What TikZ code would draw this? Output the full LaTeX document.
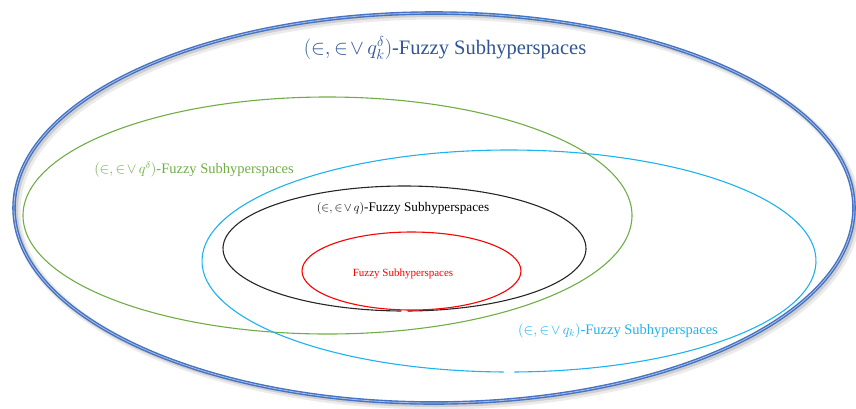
\documentclass[tikz,border=0pt]{standalone}
\usepackage{fontspec}
\setmainfont{Liberation Serif}
\definecolor{outerblue}{HTML}{4472C4}
\definecolor{outertext}{HTML}{2F5597}
\definecolor{greenc}{HTML}{70AD47}
\definecolor{cyanc}{HTML}{1DB2F0}
\definecolor{redc}{HTML}{FF0000}
\tikzset{
  ring/.style={line width=1.1pt},
  lbl/.style={inner sep=0pt, anchor=center},
}
\begin{document}
\begin{tikzpicture}[x=1pt,y=-1pt]
\useasboundingbox (0,0) rectangle (856,408);
% shadow of outer ellipse
\draw[black, opacity=0.12, line width=4pt] (436,210) ellipse [x radius=420, y radius=195];
\draw[black, opacity=0.08, line width=7pt] (437,211) ellipse [x radius=420, y radius=195];
% outer ellipse (double line)
\draw[outerblue, line width=3.6pt] (434,208) ellipse [x radius=420, y radius=195];
\draw[outerblue!45!white, line width=0.8pt] (434,208) ellipse [x radius=420, y radius=195];
% green ellipse
\draw[ring, greenc] (327.5,215.5) ellipse [x radius=304.5, y radius=118.5];
% cyan ellipse with small gap at bottom
\draw[ring, cyanc] ([shift={(91:307 and 111)}]509,261) arc[start angle=91, end angle=449, x radius=307, y radius=111];
% black ellipse with small gap at bottom
\draw[ring, black!85] ([shift={(91:181.5 and 62.5)}]404.5,248.5) arc[start angle=91, end angle=449, x radius=181.5, y radius=62.5];
% red ellipse
\draw[ring, redc] (411.5,271) ellipse [x radius=109.5, y radius=39];
% labels
\node[lbl, text=outertext, font=\fontsize{20.5}{24}\selectfont] (louter) at (445,48) {$(\in,\in\!\vee\, q_k^{\delta})$-Fuzzy Subhyperspaces};
\node[lbl, text=greenc, font=\fontsize{14.5}{17}\selectfont] (lgreen) at (194,169) {$(\in,\in\!\vee\, q^{\delta})$-Fuzzy Subhyperspaces};
\node[lbl, text=black, font=\fontsize{13.2}{16}\selectfont] (lblack) at (403,208) {$(\in,\in\!\vee\, q)$-Fuzzy Subhyperspaces};
\node[lbl, text=redc, font=\fontsize{11}{13}\selectfont] (lred) at (403,274) {Fuzzy Subhyperspaces};
\node[lbl, text=cyanc, font=\fontsize{14.5}{17}\selectfont] (lcyan) at (618,331) {$(\in,\in\!\vee\, q_k)$-Fuzzy Subhyperspaces};
\end{tikzpicture}
\end{document}
